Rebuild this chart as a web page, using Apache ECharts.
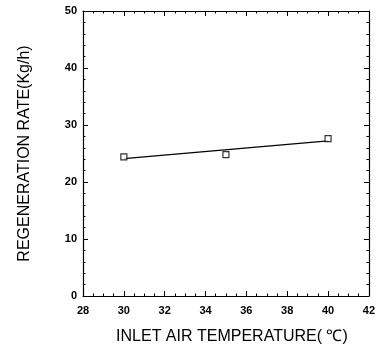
<!DOCTYPE html>
<html>
<head>
<meta charset="utf-8">
<script src="https://cdn.jsdelivr.net/npm/echarts@6/dist/echarts.min.js"></script>
<style>
  html, body { margin: 0; padding: 0; background: #fff; }
  #chart { width: 378px; height: 350px; }
</style>
</head>
<body>
<div id="chart"></div>
<script>
// measured points
const temps = [30, 35, 40]
const rates = [24.4, 24.8, 27.6]
// linear fit drawn through the points
const fitTemps = [30, 40]
const fitRates = [24.1, 27.2]

const chart = echarts.init(document.getElementById('chart'))

const tickFont = { fontFamily: 'Liberation Sans', fontWeight: 'bold', fontSize: 11, color: '#000' }

const frameAxis = {
  axisLine: { show: true, onZero: false, lineStyle: { color: '#000', width: 1.2 } },
  axisTick: { show: true, inside: true, length: 5, lineStyle: { color: '#000' } },
  minorTick: { show: true, splitNumber: 4, length: 2.5, lineStyle: { color: '#000' } },
  splitLine: { show: false },
}

const option = {
  animation: false,
  backgroundColor: '#fff',
  grid: { left: 83, right: 6, top: 11, bottom: 53 },
  xAxis: [
    {
      type: 'value', min: 28, max: 42, interval: 2,
      ...frameAxis,
      axisLabel: { ...tickFont, margin: 9 },
      name: 'INLET AIR TEMPERATURE( \u2103)',
      nameLocation: 'middle',
      nameGap: 33,
      nameTextStyle: { fontFamily: 'Liberation Sans', fontSize: 16, color: '#000', padding: [0, 0, 0, 12] },
    },
    {
      type: 'value', min: 28, max: 42, interval: 2, position: 'top',
      ...frameAxis,
      axisLabel: { show: false },
    },
  ],
  yAxis: [
    {
      type: 'value', min: 0, max: 50, interval: 10,
      ...frameAxis,
      minorTick: { show: true, splitNumber: 5, length: 2.5, lineStyle: { color: '#000' } },
      axisLabel: { ...tickFont, margin: 6 },
      name: 'REGENERATION RATE(Kg/h)',
      nameLocation: 'middle',
      nameGap: 50,
      nameTextStyle: { fontFamily: 'Liberation Sans', fontSize: 16, color: '#000' },
    },
    {
      type: 'value', min: 0, max: 50, interval: 10, position: 'right',
      ...frameAxis,
      minorTick: { show: true, splitNumber: 5, length: 2.5, lineStyle: { color: '#000' } },
      axisLabel: { show: false },
    },
  ],
  series: [
    {
      name: 'fit',
      type: 'line',
      data: fitTemps.map((t, i) => [t, fitRates[i]]),
      showSymbol: false,
      lineStyle: { color: '#000', width: 1.2 },
    },
    {
      name: 'data',
      type: 'scatter',
      data: temps.map((t, i) => [t, rates[i]]),
      symbol: 'rect',
      symbolSize: 6,
      itemStyle: { color: '#fff', borderColor: '#000', borderWidth: 1.2 },
      z: 3,
    },
  ],
}

chart.setOption(option)
</script>
</body>
</html>
